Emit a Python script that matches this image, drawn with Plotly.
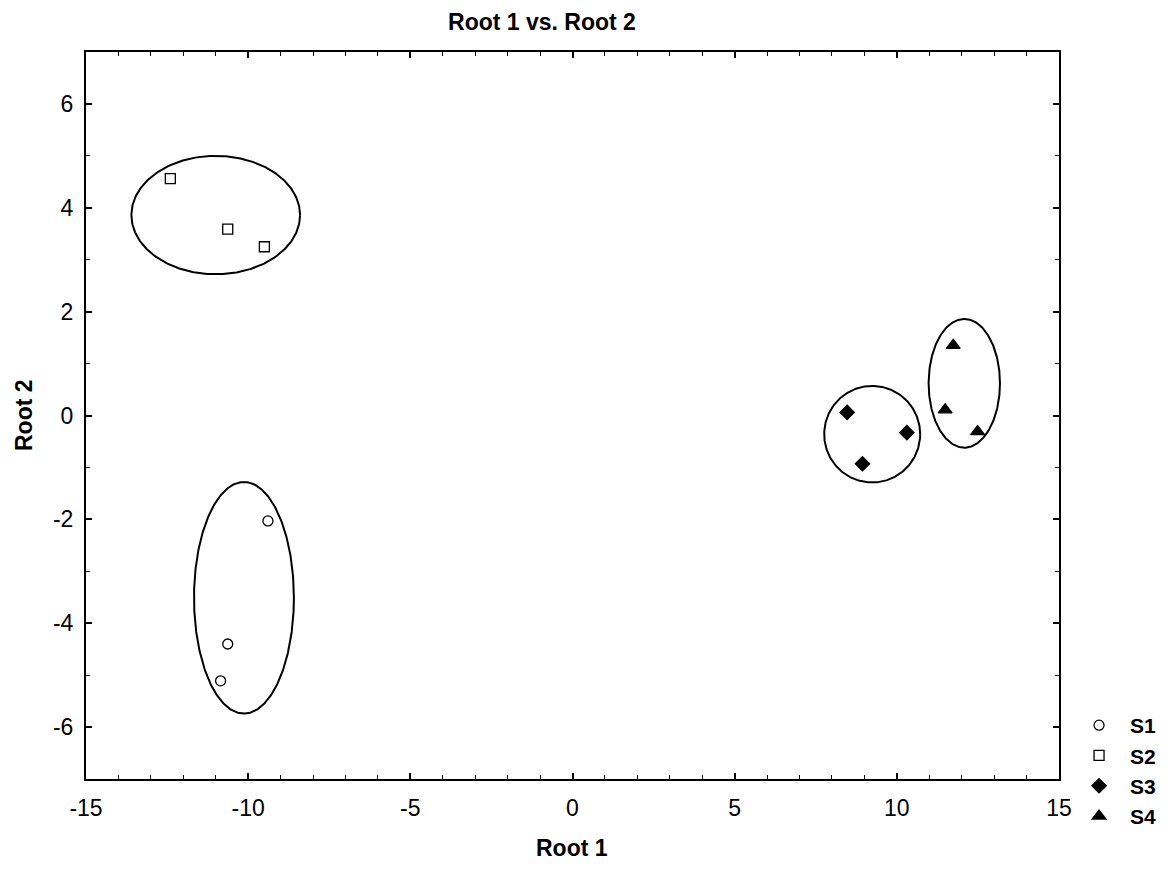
import numpy as np
import plotly.graph_objects as go

# ---- data ----
series_names = ["S1", "S2", "S3", "S4"]
s1_x = [-9.39, -10.63, -10.85]
s1_y = [-2.03, -4.40, -5.11]
s2_x = [-12.40, -10.63, -9.50]
s2_y = [4.56, 3.59, 3.25]
s3_x = [8.47, 10.31, 8.94]
s3_y = [0.06, -0.33, -0.93]
s4_x = [11.74, 11.49, 12.49]
s4_y = [1.35, 0.11, -0.31]

# ellipse centres and radii (x, y) per group
ell_cx = [-10.13, -11.00, 9.24, 12.08]
ell_cy = [-3.51, 3.86, -0.36, 0.62]
ell_rx = [1.54, 2.60, 1.48, 1.10]
ell_ry = [2.23, 1.14, 0.93, 1.24]

x_ticks = [-15, -10, -5, 0, 5, 10, 15]
y_ticks = [-6, -4, -2, 0, 2, 4, 6]

FONT = "Liberation Sans, Arial, sans-serif"

fig = go.Figure()

# ellipses
t = np.linspace(0, 2 * np.pi, 361)
for cx, cy, rx, ry in zip(ell_cx, ell_cy, ell_rx, ell_ry):
    fig.add_trace(go.Scatter(
        x=cx + rx * np.cos(t), y=cy + ry * np.sin(t),
        mode="lines", line=dict(color="black", width=2),
        showlegend=False, hoverinfo="skip"))

xs = [s1_x, s2_x, s3_x, s4_x]
ys = [s1_y, s2_y, s3_y, s4_y]
symbols = ["circle-open", "square-open", "diamond", "triangle-up"]
sizes = [10, 10, 11, 12]
for name, x, y, sym, sz in zip(series_names, xs, ys, symbols, sizes):
    fig.add_trace(go.Scatter(
        x=x, y=y, mode="markers", name="<b>" + name + "</b>",
        marker=dict(symbol=sym, size=sz, color="black",
                    line=dict(color="black", width=1.3))))

axis_common = dict(
    showgrid=False, zeroline=False, showline=True, linecolor="black",
    linewidth=2, mirror="allticks", ticks="inside", ticklen=6,
    tickwidth=1.5, tickcolor="black",
    tickfont=dict(family=FONT, size=23, color="black"),
    minor=dict(ticks="inside", ticklen=4, tickwidth=1.2, tickcolor="black", dtick=1),
)

fig.update_xaxes(range=[-15, 15], tickvals=x_ticks, ticktext=[str(v) for v in x_ticks],
                 ticklabelstandoff=7, **axis_common)
fig.update_yaxes(range=[-7, 7], tickvals=y_ticks, ticktext=[str(v) for v in y_ticks],
                 ticklabelstandoff=6, **axis_common)

W, H = 1174, 869
ml, mr, mt, mb = 86, 115, 52, 90
pw, ph = W - ml - mr, H - mt - mb
fig.update_layout(
    width=W, height=H,
    margin=dict(l=ml, r=mr, t=mt, b=mb, autoexpand=False),
    paper_bgcolor="white", plot_bgcolor="white",
    title=dict(text="<b>Root 1 vs. Root 2</b>", x=542 / W, xanchor="center",
               xref="container",
               y=1 - 22 / H, yanchor="middle", yref="container",
               font=dict(family=FONT, size=23, color="black")),
    legend=dict(x=1.0093, xanchor="left", y=(779 - 705) / ph, yanchor="top",
                font=dict(family=FONT, size=21, color="black"),
                itemwidth=52,
                bgcolor="rgba(0,0,0,0)", tracegroupgap=0),
    annotations=[
        dict(text="<b>Root 1</b>", xref="paper", yref="paper",
             x=(572 - ml) / pw, y=-(848 - 779) / ph,
             xanchor="center", yanchor="middle", showarrow=False,
             font=dict(family=FONT, size=23, color="black")),
        dict(text="<b>Root 2</b>", xref="paper", yref="paper",
             x=-(ml - 24) / pw, y=(779 - 415) / ph,
             xanchor="center", yanchor="middle", showarrow=False, textangle=-90,
             font=dict(family=FONT, size=23, color="black")),
    ],
)

fig.write_html("out.html", config={"displayModeBar": False},
               post_script="document.body.style.margin='0';")
